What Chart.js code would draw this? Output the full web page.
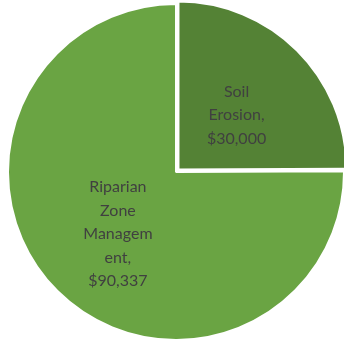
<!DOCTYPE html>
<html>
<head>
<meta charset="utf-8">
<script src="https://cdn.jsdelivr.net/npm/chart.js@4"></script>
<style>
  html, body { margin: 0; padding: 0; background: #ffffff; }
  #chart { display: block; }
</style>
</head>
<body>
<canvas id="chart" width="344" height="345"></canvas>
<script>
// Cost breakdown by category
const categories = ['Soil Erosion', 'Riparian Zone Management'];
const costs = [30000, 90337];
// Data label lines as they wrap inside each slice
const labelLines = [
  ['Soil', 'Erosion,', '$30,000'],
  ['Riparian', 'Zone', 'Managem', 'ent,', '$90,337']
];
const sliceColors = ['#548235', '#6AA443'];
const sliceOffsets = [14, 0];

const sliceLabels = {
  id: 'sliceLabels',
  afterDatasetsDraw(chart) {
    const ctx = chart.ctx;
    const meta = chart.getDatasetMeta(0);
    ctx.save();
    ctx.font = '16px Lato, "DejaVu Sans", sans-serif';
    ctx.fillStyle = '#404040';
    ctx.textAlign = 'center';
    ctx.textBaseline = 'middle';
    const lineH = 23.5;
    meta.data.forEach((arc, i) => {
      const p = arc.getProps(['x', 'y', 'startAngle', 'endAngle', 'outerRadius'], true);
      const mid = (p.startAngle + p.endAngle) / 2;
      // Chart.js moves an offset arc by a quarter of its offset value
      const shift = sliceOffsets[i] / 4;
      const cx = p.x + Math.cos(mid) * shift;
      const cy = p.y + Math.sin(mid) * shift;
      const d = p.outerRadius * 0.49;
      const lx = cx + Math.cos(mid) * d;
      const ly = cy + Math.sin(mid) * d + 4;
      const lines = labelLines[i];
      const top = ly - (lines.length - 1) * lineH / 2;
      lines.forEach((t, k) => ctx.fillText(t, lx, top + k * lineH));
    });
    ctx.restore();
  }
};

new Chart(document.getElementById('chart'), {
  type: 'pie',
  data: {
    labels: categories,
    datasets: [{
      data: costs,
      backgroundColor: sliceColors,
      borderColor: '#ffffff',
      borderWidth: 2,
      offset: sliceOffsets,
      radius: 168
    }]
  },
  options: {
    responsive: false,
    animation: false,
    layout: { padding: { left: 8, right: 0, top: 0, bottom: 1 } },
    plugins: {
      legend: { display: false },
      tooltip: { enabled: false }
    }
  },
  plugins: [sliceLabels]
});
</script>
</body>
</html>
